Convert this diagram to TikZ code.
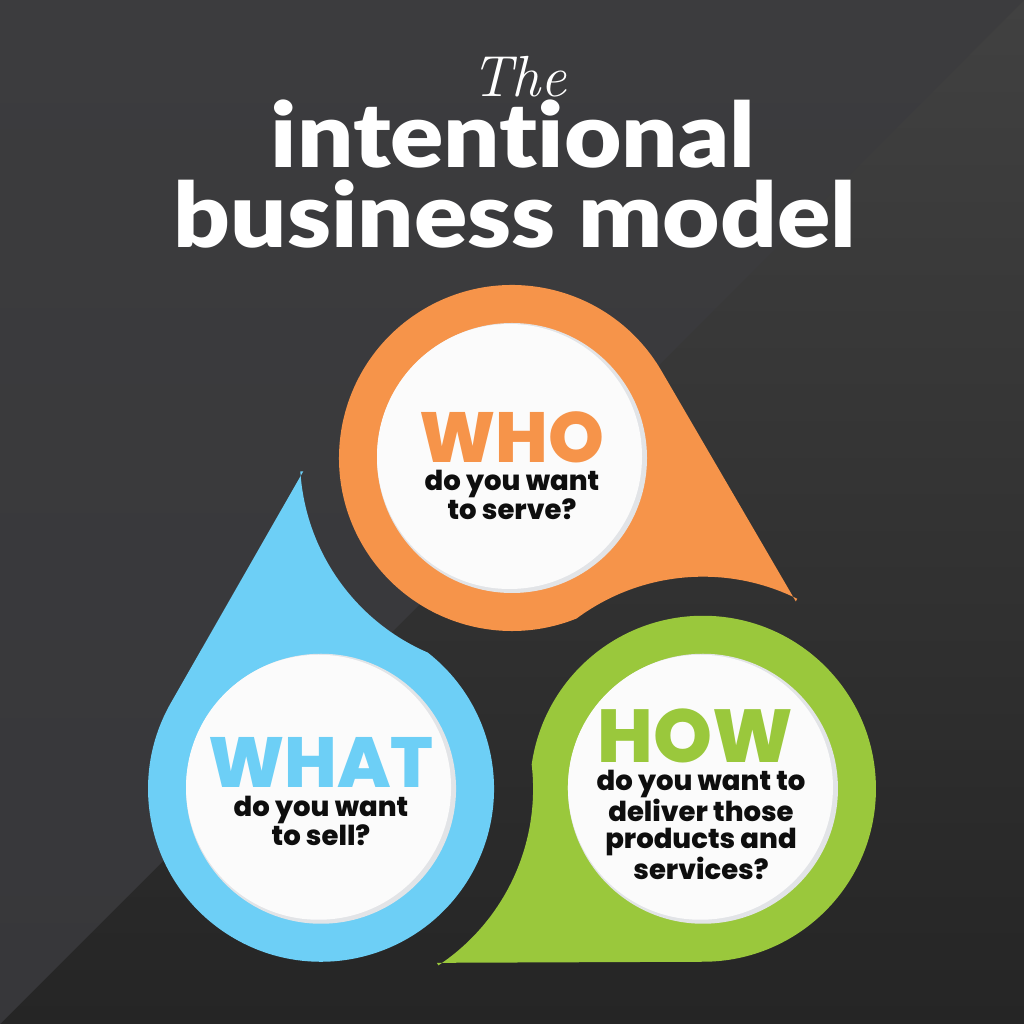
\documentclass[tikz,border=0pt]{standalone}
\usepackage{fontspec}
\newfontfamily\titlefont{Lato Black}[Ligatures=NoCommon, FakeStretch=1.1]
\newfontfamily\popfont{Poppins ExtraBold}
\definecolor{bgAtop}{HTML}{3C3C3E}
\definecolor{bgAbot}{HTML}{37373A}
\definecolor{bgBtop}{HTML}{414141}
\definecolor{bgBbot}{HTML}{252525}
\definecolor{orangeC}{HTML}{F6944A}
\definecolor{blueC}{HTML}{6DCFF6}
\definecolor{greenC}{HTML}{9AC83C}
\definecolor{discC}{HTML}{FBFBFB}
\definecolor{rimC}{HTML}{E2E4E7}
\definecolor{inkC}{HTML}{0E0E0E}
\tikzset{
  bigword/.style={font=\popfont\fontsize{71bp}{71bp}\selectfont, anchor=base, inner sep=0pt},
  subtext/.style={font=\popfont\fontsize{27.5bp}{27.5bp}\selectfont, align=center, anchor=north, inner sep=0pt, text=inkC},
  titleword/.style={font=\titlefont\fontsize{90bp}{90bp}\selectfont, anchor=base, inner sep=0pt, text=white},
}
\begin{document}
\begin{tikzpicture}[x=1bp,y=1bp]
\useasboundingbox (0,0) rectangle (1024,1024);
% background
\shade[top color=bgBtop, bottom color=bgBbot] (0,0) rectangle (1024,1024);
\shade[top color=bgAtop, bottom color=bgAbot] (0,0) -- (0,1024) -- (1024,1024) -- cycle;
% teardrops
\begin{scope}[shift={(512,566)}]
  \fill[orangeC] (283.8,-143.4) -- (30.24:173) arc[start angle=30.24, end angle=291.93, radius=173]
     arc[start angle=126.6, end angle=63.6, radius=212] -- cycle;
\end{scope}
\begin{scope}[shift={(702.96,235.25)}, rotate=-120]
  \fill[greenC] (283.8,-143.4) -- (30.24:173) arc[start angle=30.24, end angle=291.93, radius=173]
     arc[start angle=126.6, end angle=63.6, radius=212] -- cycle;
\end{scope}
\begin{scope}[shift={(321.04,235.25)}, rotate=120]
  \fill[blueC] (283.8,-143.4) -- (30.24:173) arc[start angle=30.24, end angle=291.93, radius=173]
     arc[start angle=126.6, end angle=63.6, radius=212] -- cycle;
\end{scope}
% white discs
\foreach \cx/\cy in {512/566, 702.96/235.25, 321.04/235.25}{
  \fill[rimC] (\cx,\cy) circle (135);
  \fill[discC] (\cx-2.5,\cy+1.5) circle (132.5);
}
% title
\node[font=\itshape\fontsize{58bp}{58bp}\selectfont, anchor=base, inner sep=0pt, text=white] (the) at (519,927) {The};
\node[titleword] (intentional) at (513,856) {intentional};
\node[titleword] (business) at (515,776) {business model};
% labels
\node[bigword, text=orangeC] (who) at (512,561) {WHO};
\node[subtext] (whosub) at (512,554) {do you want\\to serve?};
\node[bigword, text=blueC] (what) at (321,236) {WHAT};
\node[subtext] (whatsub) at (321,228) {do you want\\to sell?};
\node[bigword, text=greenC, font=\popfont\fontsize{75bp}{75bp}\selectfont] (how) at (695,261) {HOW};
\node[subtext] (howsub) at (701,254) {do you want to\\deliver those\\products and\\services?};
\end{tikzpicture}
\end{document}
